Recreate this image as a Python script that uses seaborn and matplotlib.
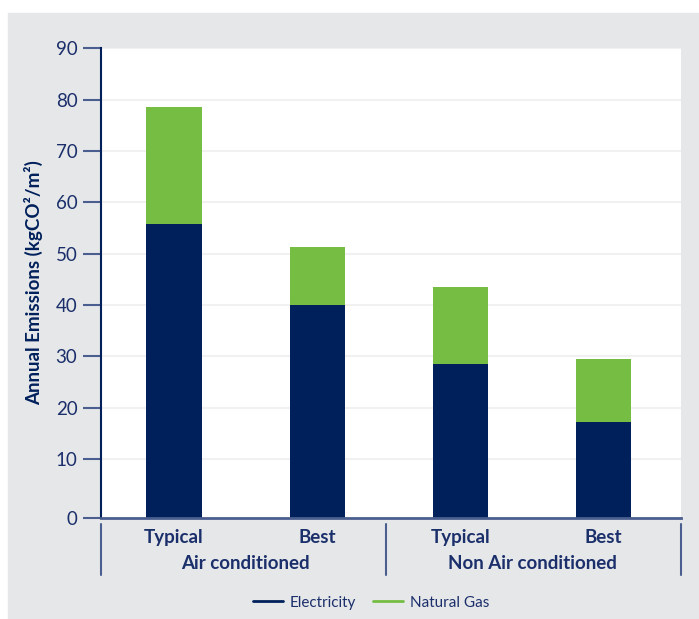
import matplotlib
matplotlib.use("Agg")
import matplotlib.pyplot as plt
from matplotlib.lines import Line2D
from matplotlib.patches import Rectangle
import seaborn as sns
import pandas as pd

# Annual emissions per building type and performance level (kgCO2/m2)
scenarios = ["Typical", "Best", "Typical", "Best"]
bar_groups = ["Air conditioned", "Air conditioned",
              "Non Air conditioned", "Non Air conditioned"]
group_labels = ["Air conditioned", "Non Air conditioned"]
electricity = [55.7, 40.0, 28.4, 17.2]
natural_gas = [22.9, 11.2, 15.1, 12.2]
y_ticks = [0, 10, 20, 30, 40, 50, 60, 70, 80, 90]
series_names = ["Electricity", "Natural Gas"]

NAVY = "#00205b"
GREEN = "#76bd43"
TEXT = "#1b2f6b"
AXIS = "#4a5f8f"
PANEL = "#e6e7e9"
GRID = "#f1f1f1"

# the value axis floor sits a little below zero, as in the house style
FLOOR = -1.45

sns.set_theme(style="white")
plt.rcParams["font.family"] = ["Lato", "DejaVu Sans"]

slots = [f"{g} | {s}" for g, s in zip(bar_groups, scenarios)]
df = pd.DataFrame({
    "slot": slots,
    "scenario": scenarios,
    "group": bar_groups,
    "Electricity": electricity,
    "Natural Gas": natural_gas,
})
df["Total"] = df["Electricity"] + df["Natural Gas"]
df["total_h"] = df["Total"] - FLOOR
df["elec_h"] = df["Electricity"] - FLOOR

fig = plt.figure(figsize=(6.99, 6.19), dpi=100)
fig.patches.append(Rectangle((8 / 699, 0), 1, 1 - 13 / 619,
                             transform=fig.transFigure, color=PANEL,
                             zorder=-10))
ax = fig.add_axes([101 / 699, 1 - 517.7 / 619, 580 / 699, 469.4 / 619])
ax.set_zorder(1)
ax.set_facecolor("white")

bar_w = 0.386
sns.barplot(data=df, x="slot", y="total_h", order=slots, color=GREEN,
            saturation=1, width=bar_w, bottom=FLOOR, linewidth=0, ax=ax)
sns.barplot(data=df, x="slot", y="elec_h", order=slots, color=NAVY,
            saturation=1, width=bar_w, bottom=FLOOR, linewidth=0, ax=ax)

x_lo, x_hi = -0.51, 3.54
ax.set_xlim(x_lo, x_hi)
ax.set_ylim(FLOOR, 90)

tick_pos = [FLOOR if t == 0 else t for t in y_ticks]
ax.set_yticks(tick_pos)
ax.set_yticklabels([str(t) for t in y_ticks])
ax.set_axisbelow(True)
ax.yaxis.grid(True, color=GRID, linewidth=1.5)
ax.xaxis.grid(False)

for side in ("top", "right"):
    ax.spines[side].set_visible(False)
ax.spines["left"].set_color(NAVY)
ax.spines["left"].set_linewidth(1.5)
ax.spines["bottom"].set_color(AXIS)
ax.spines["bottom"].set_linewidth(2)

ax.tick_params(axis="y", left=True, length=13, width=1.5, color=AXIS,
               labelcolor=TEXT, labelsize=13.5, pad=4)
ax.tick_params(axis="x", bottom=False, length=0, pad=8)
ax.set_xticks(range(len(scenarios)))
ax.set_xticklabels(scenarios, fontsize=13.5, fontweight="bold", color=TEXT)
ax.set_xlabel("")

ax.set_ylabel("Annual Emissions (kgCO²/m²)", fontsize=13.5,
              fontweight="bold", color=NAVY)
ax.yaxis.set_label_coords(-0.099, 0.5)

# group labels and separators under the category axis
trans = ax.get_xaxis_transform()
for i, g in enumerate(group_labels):
    ax.text(2 * i + 0.5, -0.0975, g, transform=trans, ha="center",
            va="center", fontsize=13.5, fontweight="bold", color=TEXT)
for xs in (x_lo, 1.48, x_hi):
    ax.plot([xs, xs], [-0.0134, -0.122], transform=trans, color=AXIS,
            linewidth=1.5, clip_on=False)

handles = [Line2D([], [], color=NAVY, linewidth=2),
           Line2D([], [], color=GREEN, linewidth=2)]
fig.legend(handles, series_names, loc="center",
           bbox_to_anchor=(371 / 699, 1 - 602.7 / 619), ncol=2,
           frameon=False, fontsize=11, handlelength=1.95,
           columnspacing=1.1, handletextpad=0.45, labelcolor=TEXT)

fig.savefig("out.png", dpi=100)
